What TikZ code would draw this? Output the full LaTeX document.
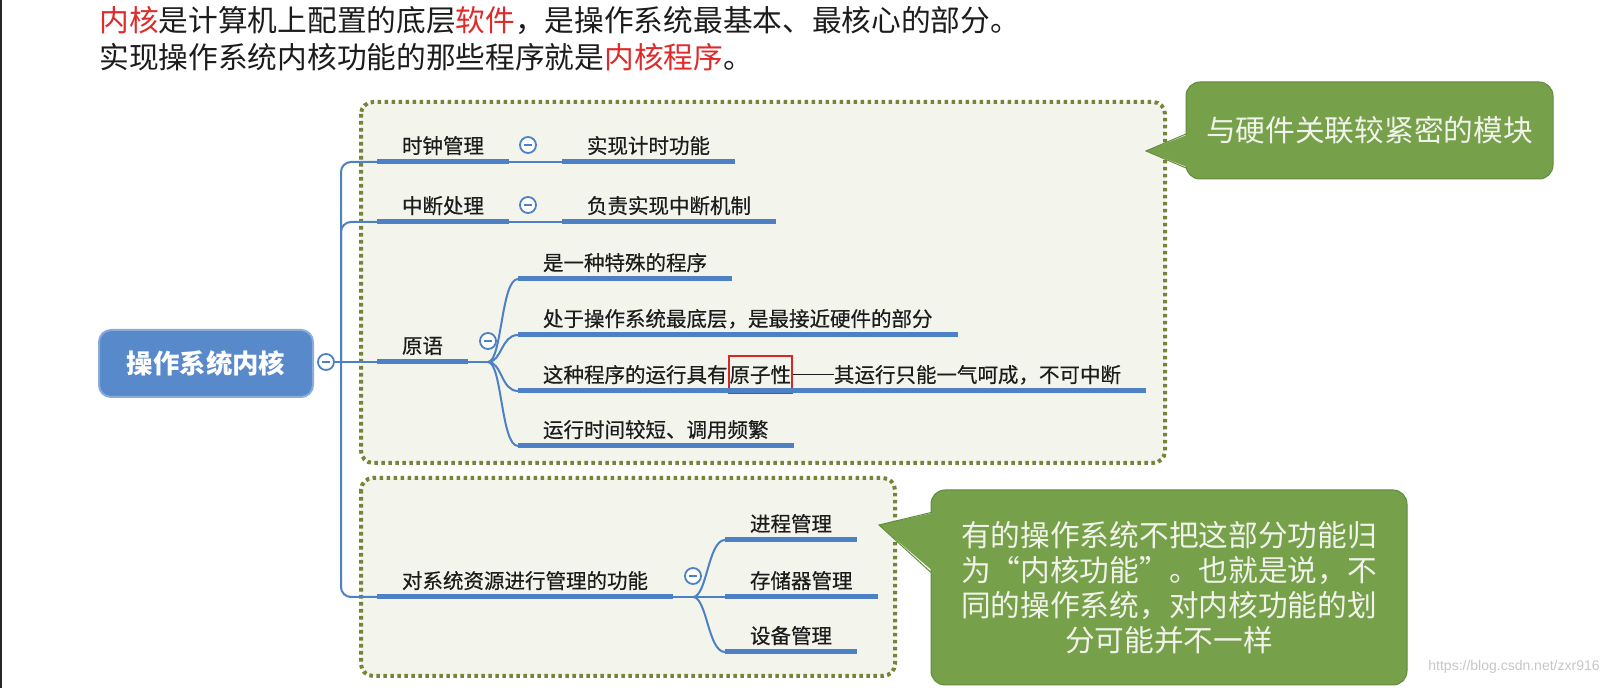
\documentclass[tikz,border=0pt]{standalone}
\usepackage{fontspec}
\setmainfont{Noto Sans CJK SC}
\newfontfamily\mapfont{Noto Sans CJK SC}[FakeBold=0.5]
\newfontfamily\wmfont{Liberation Sans}
\usetikzlibrary{calc}
\definecolor{mmblue}{HTML}{4D80C4}
\definecolor{rootblue}{HTML}{5889CB}
\definecolor{frameol}{HTML}{76843A}
\definecolor{framebg}{HTML}{F3F5EC}
\definecolor{notegreen}{HTML}{76A04A}
\definecolor{noteedge}{HTML}{618C3C}
\definecolor{notetext}{HTML}{F1F3EA}
\definecolor{hired}{HTML}{E02A2A}
\definecolor{boxred}{HTML}{D62828}
\definecolor{inkblack}{HTML}{1C1C1C}
\newcommand\atombox[1]{{\color{boxred}\setlength\fboxrule{1pt}\setlength\fboxsep{0pt}\fbox{\color{inkblack}\rule[-4.7pt]{0pt}{17.5pt}#1}}}
\newcommand\fw[1]{{\addfontfeature{RawFeature=+fwid}#1}}
\newcommand\longdash{\rule[3.6pt]{20.5pt}{0.8pt}}
\begin{document}
\begin{tikzpicture}[x=0.5pt,y=-0.5pt,
 topic/.style={font=\mapfont\fontsize{10.25}{12}\selectfont, text=inkblack, inner xsep=12.3pt, inner ysep=0pt, text height=10pt, text depth=4.1pt, anchor=south west},
 uline/.style={draw=mmblue, line width=2.5pt},
 conn/.style={draw=mmblue, line width=1pt},
 fold/.style={circle, draw=mmblue, fill=white, line width=0.9pt, minimum size=8pt, inner sep=0pt,
   path picture={\draw[mmblue, line width=0.7pt] ([xshift=-2pt]path picture bounding box.center) -- ([xshift=2pt]path picture bounding box.center);}},
 frame/.style={draw=frameol, fill=framebg, line width=2pt, dash pattern=on 1.8pt off 1.7pt, rounded corners=6pt},
 note/.style={fill=notegreen, draw=noteedge, line width=0.5pt, rounded corners=7pt, text=notetext, font=\fontsize{14.85}{17.5}\selectfont, align=center, inner sep=0pt},
 intro/.style={anchor=west, font=\fontsize{14.85}{17}\selectfont, text=inkblack, inner sep=0pt},
]
\path[use as bounding box, fill=white] (0,0) rectangle (1607,688);
\fill[black!85] (0,0) rectangle (2,688);

% intro text
\node[intro] (intro1) at (99,21) {\textcolor{hired}{内核}是计算机上配置的底层\textcolor{hired}{软件}，是操作系统最基本、最核心的部分。};
\node[intro] (intro2) at (99,57) {实现操作系统内核功能的那些程序就是\textcolor{hired}{内核程序}。};

% frames
\draw[frame] (361,102) rectangle (1165,463);
\draw[frame] (361,478) rectangle (895,676);

% root
\node[fill=rootblue, draw=rootblue!70!white, line width=1pt, rounded corners=6pt, minimum width=107pt, minimum height=33.5pt, text=white, font=\fontsize{13.2}{15}\selectfont\bfseries] (root) at (206,363.5) {操作系统内核};
\node[fold] (f0) at (326,362) {};
\coordinate (trunk) at (341,362);

% level 1
\node[topic] (clk) at (377,162) {时钟管理};
\node[topic] (intr) at (377,222) {中断处理};
\node[topic] (prim) at (377,362) {原语};
\node[topic] (res) at (377,597) {对系统资源进行管理的功能};

% level 2
\node[topic] (clkb) at (562,162) {实现计时功能};
\node[topic] (intrb) at (562,222) {负责实现中断机制};
\node[topic] (p1) at (518,279) {是一种特殊的程序};
\node[topic] (p2) at (518,335) {处于操作系统最底层，是最接近硬件的部分};
\node[topic] (p3) at (518,391) {这种程序的运行具有\atombox{原子性}\longdash 其运行只能一气呵成，不可中断};
\node[topic] (p4) at (518,446) {运行时间较短、调用频繁};
\node[topic] (r1) at (725,540) {进程管理};
\node[topic] (r2) at (725,597) {存储器管理};
\node[topic] (r3) at (725,652) {设备管理};

\foreach \n in {clk,intr,prim,res,clkb,intrb,p1,p2,p3,p4,r1,r2,r3}
  \draw[uline] (\n.south west) -- (\n.south east);

% connectors
\draw[conn] (f0.east) -- (trunk);
\draw[conn, rounded corners=5pt] (trunk) |- (clk.south west);
\draw[conn, rounded corners=5pt] (trunk) |- (intr.south west);
\draw[conn] (trunk) -- (prim.south west);
\draw[conn, rounded corners=5pt] (trunk) |- (res.south west);
\draw[conn] (clk.south east) -- (clkb.south west);
\draw[conn] (intr.south east) -- (intrb.south west);

\coordinate (psplit) at ($(prim.south east)+(20,0)$);
\draw[conn] (prim.south east) -- (psplit);
\foreach \c in {p1,p2,p3,p4}
  \draw[conn] (psplit) .. controls +(14,0) and +(-17,0) .. (\c.south west);

\coordinate (rsplit) at ($(res.south east)+(20,0)$);
\draw[conn] (res.south east) -- (rsplit);
\foreach \c in {r1,r2,r3}
  \draw[conn] (rsplit) .. controls +(14,0) and +(-17,0) .. (\c.south west);

% fold markers
\node[fold] (fclk) at ($(clk.south east)+(19,-17)$) {};
\node[fold] (fintr) at ($(intr.south east)+(19,-17)$) {};
\node[fold] (fprim) at ($(prim.south east)+(20,-21)$) {};
\node[fold] (fres) at ($(res.south east)+(20,-21)$) {};

% callout 1
\node[note, minimum width=183.5pt, minimum height=48.5pt] (note1) at (1369.5,130.5) {与硬件关联较紧密的模块};
\coordinate (tip1) at (1146,151);
\fill[notegreen] (tip1) -- ([shift={(4,3.5)}]note1.west) -- ([shift={(4,37.5)}]note1.west) -- cycle;
\draw[noteedge, line width=0.5pt] ([shift={(0.5,3.5)}]note1.west) -- (tip1) -- ([shift={(0.5,37.5)}]note1.west);

% callout 2
\node[note, minimum width=238pt, minimum height=97.5pt] (note2) at (1169,587.5) {有的操作系统不把这部分功能归\\为\fw{“}内核功能\fw{”}。也就是说，不\\同的操作系统，对内核功能的划\\分可能并不一样};
\coordinate (tip2) at (879,525);
\fill[notegreen] (tip2) -- ([shift={(4,-75)}]note2.west) -- ([shift={(4,-15)}]note2.west) -- cycle;
\draw[noteedge, line width=0.5pt] ([shift={(0.5,-75)}]note2.west) -- (tip2) -- ([shift={(0.5,-15)}]note2.west);

% watermark
\node[anchor=east, font=\wmfont\fontsize{7}{8}\selectfont, text=black!22, inner sep=0pt] (wm) at (1600,667) {https://blog.csdn.net/zxr916};
\end{tikzpicture}
\end{document}
